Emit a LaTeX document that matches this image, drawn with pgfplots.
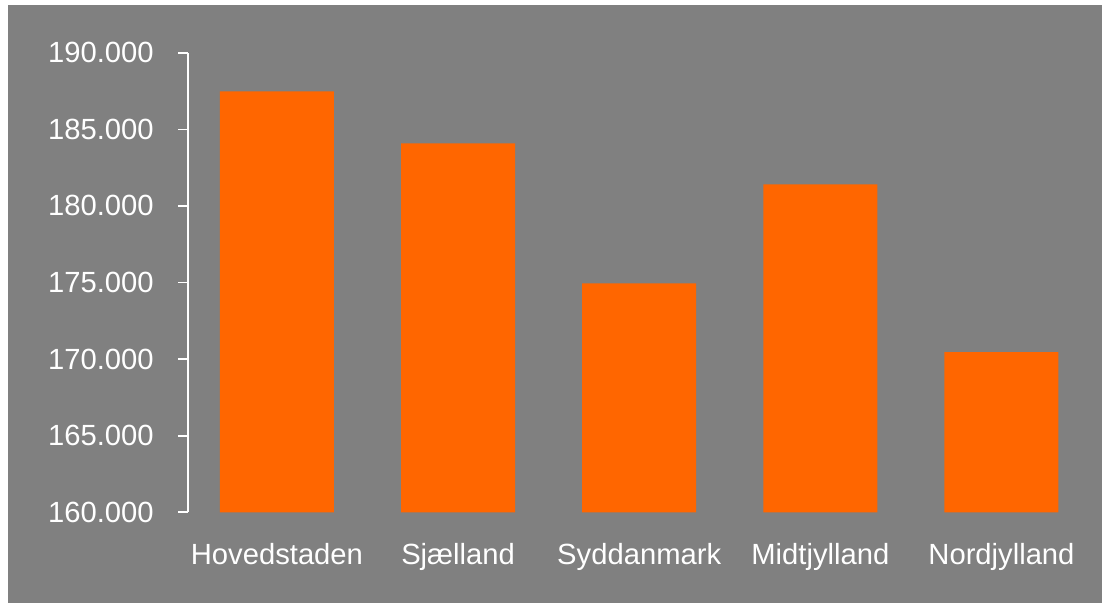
\documentclass[border=0pt]{standalone}
\usepackage{fontspec}
\setmainfont{Liberation Sans}
\usepackage{pgfplots}
\pgfplotsset{compat=1.18}
\definecolor{bg}{HTML}{808080}
\definecolor{barc}{HTML}{FF6600}
\begin{document}
\begin{tikzpicture}
\useasboundingbox (0,0) rectangle (551bp,301.5bp);
\fill[white] (0,0) rectangle (551bp,301.5bp);
\fill[bg] (4bp,0) rectangle (551bp,299bp);
\begin{axis}[
  at={(94bp,45.35bp)}, anchor=south west,
  scale only axis, width=451.2bp, height=229.8bp,
  xmin=-0.491, xmax=4.491,
  ymin=160000, ymax=190000,
  scaled y ticks=false,
  axis y line*=left, axis x line*=bottom,
  x axis line style={draw=none},
  y axis line style={white, line width=0.8bp},
  xtick=data,
  xticklabels={Hovedstaden,Sjælland,Syddanmark,Midtjylland,Nordjylland},
  xtick style={draw=none},
  ytick={160000,165000,170000,175000,180000,185000,190000},
  yticklabels={160.000,165.000,170.000,175.000,180.000,185.000,190.000},
  ytick style={white, line width=0.8bp},
  tick align=outside, major tick length=5bp,
  ytick pos=left,
  tick label style={white, font=\fontsize{14.6bp}{17bp}\selectfont},
  yticklabel style={anchor=east, inner sep=0pt, xshift=-12bp},
  xticklabel style={anchor=base, inner sep=0pt, yshift=-21bp},
  ybar, bar width=57bp,
]
\addplot[fill=barc, draw=none] coordinates {(0,187480) (1,184080) (2,174935) (3,181410) (4,170455)};
\end{axis}
\end{tikzpicture}
\end{document}
